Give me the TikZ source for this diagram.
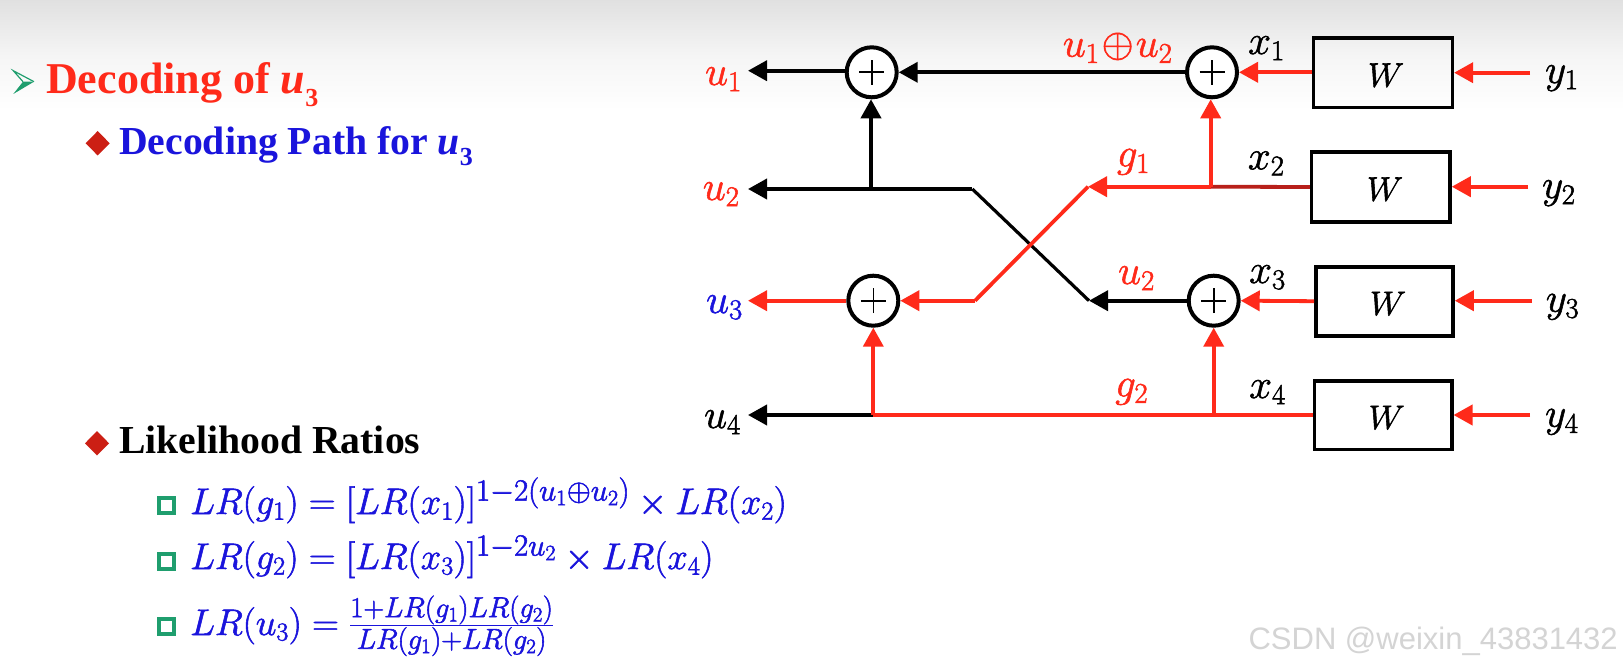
\RequirePackage{fix-cm}
\documentclass[tikz,border=0pt]{standalone}
\usepackage{amsmath}
\usepackage{fontspec}
\setmainfont{Liberation Serif}
\newfontfamily\wmfont{Liberation Sans}
\usetikzlibrary{arrows.meta}
\definecolor{rd}{HTML}{FF2A1A}
\definecolor{drd}{HTML}{B8201A}
\definecolor{bl}{HTML}{1A14DC}
\definecolor{grn}{HTML}{1F9E6E}
\definecolor{dia}{HTML}{CC1F14}
\newcommand{\boldsubu}[1]{{\itshape u}\raisebox{-0.28em}{\fontsize{26}{26}\selectfont #1}}
\newcommand{\thk}[1]{\special{pdf:code 2 Tr 0.55 w}#1\special{pdf:code 0 Tr}}
\newcommand{\exptext}[1]{\text{\fontsize{44}{46}\selectfont$\scriptstyle #1$}}
\newcommand{\fractext}[1]{\text{\fontsize{41}{44}\selectfont$\scriptstyle #1$}}
\tikzset{
  x=1pt,y=-1pt,
  xornode/.style={circle,draw=black,line width=4pt,fill=white,minimum size=50pt,inner sep=0pt,
    path picture={\draw[line width=1.6pt,black] (path picture bounding box.center) +(-12.5pt,0) -- +(12.5pt,0) +(0,-12.5pt) -- +(0,12.5pt);}},
  wbox/.style={rectangle,draw=black,line width=3.6pt,fill=none,inner sep=0pt},
  lbl/.style={inner sep=0pt,anchor=base west,font=\fontsize{41}{44}\selectfont},
  wlbl/.style={inner sep=0pt,anchor=base,font=\fontsize{34}{40}\selectfont},
  head/.style={inner sep=0pt,anchor=base west,font=\fontsize{39.7}{44}\selectfont\bfseries},
  eqn/.style={inner sep=0pt,anchor=base west,text=bl,font=\fontsize{37}{42}\selectfont},
  wire/.style={line width=3.8pt},
  blackarrow/.style={wire,black,-{Triangle[length=19pt,width=20pt]}},
  redarrow/.style={wire,rd,-{Triangle[length=19pt,width=20pt]}},
  sqbullet/.style={draw=grn,line width=4pt,fill=white},
}
\begin{document}
\begin{tikzpicture}
\useasboundingbox (0,0) rectangle (1623,666);
\fill[white] (0,0) rectangle (1623,666);
\shade[top color=black!12,bottom color=white,middle color=black!4] (0,0) rectangle (1623,110);

% left text
\fill[grn] (13.3,94) -- (34,81.7) -- (23,81.7) -- cycle;
\draw[grn,line width=1.2pt,line join=miter] (23,81.7) -- (13.3,70.7) -- (34,81.7);
\node[head,text=rd,font=\fontsize{44}{48}\selectfont\bfseries] (t1) at (46,94) {Decoding of \boldsubu{3}};
\fill[dia] (85.7,143.3) -- (97.7,131) -- (109.7,143.3) -- (97.7,155.5) -- cycle;
\node[head,text=bl] (t2) at (119,154) {Decoding Path for \boldsubu{3}};
\fill[dia] (85,443.3) -- (97,431) -- (109,443.3) -- (97,455.5) -- cycle;
\node[head,text=black] (t3) at (119,453.5) {Likelihood Ratios};

\draw[sqbullet] (159,498) rectangle (174,513);
\draw[sqbullet] (159,553.5) rectangle (174,568.5);
\draw[sqbullet] (159,619) rectangle (174,634);
\node[eqn] (e1) at (190,514) {\thk{$LR(g_1)=[LR(x_1)]^{\exptext{1-2(u_1\oplus u_2)}}\times LR(x_2)$}};
\node[eqn] (e2) at (190,569) {\thk{$LR(g_2)=[LR(x_3)]^{\exptext{1-2u_2}}\times LR(x_4)$}};
\node[eqn] (e3) at (190,635) {\thk{$LR(u_3)=\frac{\fractext{1+LR(g_1)LR(g_2)}}{\fractext{LR(g_1)+LR(g_2)}}$}};

% boxes
\node[wbox,minimum width=139pt,minimum height=69.4pt] (w1) at (1382.8,73) {};
\node[wbox,minimum width=138.3pt,minimum height=69.4pt] (w2) at (1380.8,187) {};
\node[wbox,minimum width=137pt,minimum height=69pt] (w3) at (1384.5,301.2) {};
\node[wbox,minimum width=137.4pt,minimum height=68.6pt] (w4) at (1383,415) {};

% xor nodes
\node[xornode] (p1) at (871.7,72.3) {};
\node[xornode] (p2) at (1212,72.3) {};
\node[xornode] (p3) at (873.3,300.7) {};
\node[xornode] (p4) at (1213.7,300.7) {};

% coordinates
\coordinate (u1tip) at (748,70.7);
\coordinate (u2tip) at (748,189);
\coordinate (u3tip) at (748,300.7);
\coordinate (u4tip) at (748,415);
\coordinate (b1) at (871,189);
\coordinate (b2) at (972.3,189);
\coordinate (b3) at (1089,300.7);
\coordinate (r1) at (975,300.7);
\coordinate (r2) at (1088,186.7);
\coordinate (r3) at (1210.7,186.7);
\coordinate (j4) at (873.3,415);
\coordinate (j5) at (1213.7,415);
\coordinate (y1s) at (1530,72.7);
\coordinate (y2s) at (1528,186.7);
\coordinate (y3s) at (1531.7,300.7);
\coordinate (y4s) at (1530,415);

% black wires
\draw[blackarrow] (p1.west |- u1tip) -- (u1tip);
\draw[blackarrow] (p2.west) -- (p1.east);
\draw[blackarrow] (b1) -- (p1.south -| b1);
\draw[wire,black,line width=3.2pt,line join=round] (b2) -- (b3);
\draw[blackarrow] (b2) -- (u2tip);
\draw[blackarrow] (p4.west) -- (b3);
\draw[blackarrow] (j4) -- (u4tip);

% red wires
\draw[redarrow] (p3.west) -- (u3tip);
\draw[wire,rd,line join=round] (r1) -- (r2);
\draw[redarrow] (r1) -- (p3.east);
\draw[wire,drd] (w2.west) -- (r3);
\draw[redarrow] (r3) -- (r2);
\draw[redarrow] (r3) -- (p2.south -| r3);
\draw[wire,rd,line width=3.4pt] (w4.west) -- (j4);
\draw[redarrow] (j4) -- (p3.south);
\draw[redarrow] (j5) -- (p4.south);
\draw[redarrow] (w1.west |- p2) -- (p2.east);
\draw[redarrow] (w3.west) -- (p4.east);
\draw[redarrow] (y1s) -- (w1.east |- y1s);
\draw[redarrow] (y2s) -- (w2.east |- y2s);
\draw[redarrow] (y3s) -- (w3.east |- y3s);
\draw[redarrow] (y4s) -- (w4.east |- y4s);

% labels
\node[lbl,text=rd] (lu1) at (705,85) {\thk{$u_1$}};
\node[lbl,text=rd] (lu2) at (702.7,200) {\thk{$u_2$}};
\node[lbl,text=bl] (lu3) at (706,313) {\thk{$u_3$}};
\node[lbl,text=black] (lu4) at (704,428) {\thk{$u_4$}};
\node[lbl,text=rd] (lxor) at (1062.7,56.7) {\thk{$u_1\!\oplus\! u_2$}};
\node[lbl,text=rd] (lg1) at (1116.7,166.7) {\thk{$g_1$}};
\node[lbl,text=rd] (lu2b) at (1118,284) {\thk{$u_2$}};
\node[lbl,text=rd] (lg2) at (1115,396.7) {\thk{$g_2$}};
\node[lbl] (lx1) at (1248,54) {\thk{$x_1$}};
\node[lbl] (lx2) at (1247.7,169.3) {\thk{$x_2$}};
\node[lbl] (lx3) at (1249,283) {\thk{$x_3$}};
\node[lbl] (lx4) at (1249,398) {\thk{$x_4$}};
\node[lbl] (ly1) at (1545,83) {\thk{$y_1$}};
\node[lbl] (ly2) at (1542,198) {\thk{$y_2$}};
\node[lbl] (ly3) at (1545.7,311.7) {\thk{$y_3$}};
\node[lbl] (ly4) at (1545,426.7) {\thk{$y_4$}};
\node[wlbl] (lw1) at (1386,86.7) {\thk{$W$}};
\node[wlbl] (lw2) at (1385,200.7) {\thk{$W$}};
\node[wlbl] (lw3) at (1388,315) {\thk{$W$}};
\node[wlbl] (lw4) at (1386.7,429) {\thk{$W$}};

% watermark
\node[inner sep=0pt,anchor=base east,text=black!17,font=\wmfont\fontsize{31}{32}\selectfont] (wm) at (1618,649.3) {CSDN @weixin\_43831432};
\end{tikzpicture}
\end{document}
